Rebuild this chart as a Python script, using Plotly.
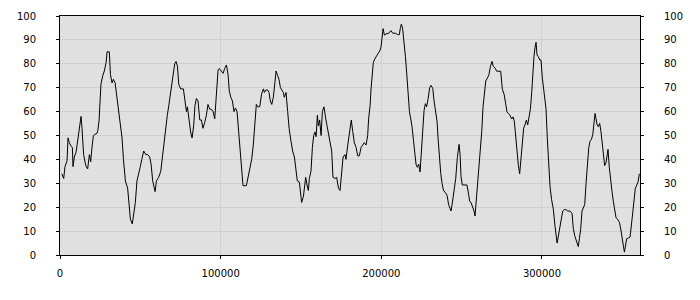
import plotly.graph_objects as go

# x positions (in thousands) and values
x_thousands = [
    1.1, 2.3, 3.1, 4.4, 5.0, 5.8, 6.9, 7.7, 8.1, 8.9, 10.0, 11.0, 12.1, 13.1, 13.7, 14.7,
    16.0, 17.2, 18.3, 19.1, 19.9, 20.8, 21.8, 23.1, 23.5, 24.3, 24.9, 25.5, 26.6, 27.6,
    28.7, 29.3, 30.7, 31.4, 32.4, 33.2, 34.3, 35.3, 36.3, 37.6, 38.6, 39.5, 40.7, 42.1,
    43.0, 43.8, 45.0, 45.9, 46.9, 47.9, 49.0, 50.0, 50.9, 52.1, 53.4, 54.6, 55.8, 56.7,
    57.7, 59.2, 60.0, 61.4, 62.7, 63.5, 64.3, 65.6, 66.8, 67.7, 68.5, 69.3, 70.4, 71.4,
    72.2, 73.1, 73.9, 75.1, 76.8, 77.6, 78.7, 79.3, 80.1, 81.3, 82.2, 83.2, 84.0, 84.9,
    85.9, 87.0, 88.0, 89.0, 90.1, 91.1, 92.1, 93.2, 94.2, 95.3, 96.3, 97.3, 98.4, 99.2,
    100.4, 101.5, 102.5, 103.6, 104.6, 105.4, 106.3, 107.3, 108.3, 109.2, 110.2, 111.2,
    112.1, 113.1, 113.9, 116.0, 117.0, 118.1, 119.3, 120.3, 121.4, 122.2, 123.1, 124.3,
    125.5, 126.6, 127.2, 128.0, 129.3, 130.1, 130.9, 131.8, 132.8, 133.8, 134.5, 135.5,
    136.3, 137.2, 138.0, 139.0, 139.6, 140.7, 141.7, 142.6, 143.8, 144.8, 145.9, 146.7,
    147.7, 149.0, 149.8, 150.4, 151.5, 152.1, 152.9, 154.0, 154.6, 155.2, 156.2, 157.1,
    157.9, 158.7, 159.4, 160.2, 160.8, 161.6, 162.5, 163.3, 164.3, 165.4, 166.2, 167.2,
    168.3, 169.1, 169.9, 171.2, 172.2, 173.3, 174.3, 175.3, 176.2, 177.4, 178.0, 179.1,
    179.9, 180.5, 181.3, 182.2, 183.2, 184.3, 185.3, 186.3, 187.4, 188.4, 189.4, 190.5,
    191.5, 192.1, 193.0, 193.6, 194.2, 195.0, 195.9, 196.9, 198.0, 199.0, 199.8, 200.4,
    201.1, 201.9, 202.9, 204.6, 206.0, 207.1, 208.7, 210.2, 211.2, 211.9, 212.5, 213.3,
    214.1, 215.0, 215.8, 216.6, 217.5, 218.3, 219.1, 220.0, 220.8, 221.6, 222.4, 223.3,
    224.1, 224.9, 225.8, 226.6, 227.4, 228.2, 229.1, 230.1, 230.9, 232.0, 232.8, 233.6,
    234.7, 235.3, 236.1, 237.0, 237.8, 238.6, 239.9, 240.9, 241.9, 243.4, 244.2, 245.2,
    246.3, 247.3, 248.4, 249.0, 249.6, 250.4, 252.1, 253.3, 254.2, 255.0, 255.8, 256.7,
    257.7, 258.3, 259.1, 260.0, 260.8, 261.6, 262.5, 263.3, 264.1, 265.0, 266.0, 267.0,
    267.9, 268.9, 269.7, 270.8, 271.8, 272.8, 274.3, 275.3, 276.4, 277.4, 278.2, 279.1,
    280.1, 281.1, 282.0, 282.8, 283.6, 284.5, 285.3, 286.1, 287.0, 287.8, 288.6, 289.4,
    290.3, 291.1, 291.9, 292.8, 293.6, 294.4, 295.0, 295.7, 296.3, 296.9, 297.7, 298.6,
    299.4, 300.2, 301.3, 302.5, 303.3, 304.2, 305.0, 306.0, 307.1, 308.1, 308.7, 309.4,
    310.2, 311.0, 311.8, 312.9, 313.9, 314.9, 316.0, 317.4, 318.7, 319.5, 320.4, 321.2,
    322.0, 322.6, 323.3, 324.1, 324.9, 325.7, 326.6, 327.4, 328.2, 329.1, 329.9, 330.7,
    331.6, 332.4, 333.0, 333.6, 334.3, 335.1, 335.9, 336.7, 337.6, 338.2, 339.0, 339.9,
    340.5, 341.1, 341.9, 342.8, 343.6, 344.4, 345.3, 346.1, 347.3, 348.2, 349.0, 349.8,
    350.6, 351.3, 351.9, 352.7, 353.8, 354.8, 355.6, 356.5, 357.3, 358.1, 359.0, 359.8,
    360.6,
]
values = [
    34, 32, 37, 39.5, 49, 47, 45.5, 45, 37, 41, 43, 48, 54, 58, 53, 42,
    37.5, 36, 42, 39, 45, 50, 50.5, 51, 52, 56, 64, 71.5, 75, 77,
    80.5, 85, 85, 75.5, 72, 73.5, 72, 67, 61, 56, 49, 40, 31, 28,
    19, 15, 13, 17.5, 22, 31, 35, 37, 40, 43.5, 42, 42, 41, 38,
    31, 26.5, 31, 32.5, 35, 39.5, 46, 54, 58.5, 62.5, 66.5, 71.5, 75.5, 80,
    81, 79, 71.5, 69.5, 69.5, 64.5, 60, 62, 57, 51.5, 49, 54, 62.5, 65.5,
    64.5, 56.5, 56.5, 53, 55.5, 58.5, 63, 61, 61, 60, 57, 68, 77.5, 78,
    77, 76, 78, 79.5, 75.5, 68.5, 66, 64.5, 60, 61.5, 60, 51.5,
    43.5, 39, 29, 29, 32.5, 35, 40, 46, 55, 63, 62, 62,
    67.5, 69.5, 68, 69, 69, 68, 64.5, 63, 66, 74, 77, 75,
    73.5, 70, 69, 68, 66, 68, 60, 53, 47.5, 43.5, 41, 37,
    31, 30.5, 26, 22, 24.5, 29, 32.5, 28.5, 27, 32, 35, 45,
    50, 51.5, 49.5, 58.5, 54, 56.5, 50, 60, 62, 57, 54, 50,
    47, 43.5, 32.5, 32, 32.5, 28, 27, 35, 41, 42, 40, 46,
    50, 53.7, 56.5, 51.7, 47, 45, 41.5, 41.5, 45, 46, 47, 46,
    50, 57, 62.5, 69.5, 75, 80.5, 82, 83, 84.6, 85.4, 87, 92,
    94.7, 92, 92.5, 92.8, 93.9, 92.8, 92.8, 92.2, 92.2, 95.2, 96.6, 94.5,
    89.8, 83, 76, 68, 60, 57, 53.7, 48, 43.5, 38, 36.7, 38,
    34.7, 43.5, 54.4, 60.5, 63.3, 62, 65.3, 70, 71, 69.7, 64.6, 60,
    55.8, 49, 40, 34, 30, 27.2, 26, 25, 21, 18.4, 21.8, 26.5,
    32, 40.8, 46.3, 42.2, 32.7, 29.3, 29.3, 29.3, 25.9, 22.4, 22, 20.4,
    18.4, 16.3, 22.4, 30.6, 36.7, 43.5, 51.7, 62, 68.7, 72.8, 74, 75.5,
    78.9, 81, 78.9, 78.2, 76.9, 76.9, 76.9, 69.4, 67.3, 63.3, 59.9, 59.2,
    58.5, 56.9, 57.8, 55.8, 49, 40.8, 37.4, 34, 40.8, 49, 53.1, 54.4,
    56.5, 54.4, 57.1, 61.2, 68, 77.6, 83, 87, 89, 83.7, 83, 81.6,
    81.6, 74.1, 66.7, 61.2, 49, 38, 28.6, 23.1, 19, 12, 7.5, 5,
    8, 11, 15, 18.4, 19, 19, 18.4, 18.4, 17.4, 11, 8, 6,
    4.5, 3.5, 7, 11, 18.4, 19.7, 21.1, 29.9, 39.5, 44.9, 47.6, 48.3,
    50.3, 57.1, 59.2, 57.1, 54.4, 53.7, 55.1, 51.7, 46.3, 40.8, 37.4, 38.8,
    40.8, 44.2, 36.7, 29.9, 26.5, 22.4, 18.4, 15.6, 14.7, 13.6, 10.9, 8.2,
    4.1, 1.2, 4.8, 6.8, 7.1, 7.5, 12.2, 19, 24.5, 27.9, 29.3, 30.6,
    34,
]
x_vals = [v * 1000 for v in x_thousands]

x_ticks = [0, 100000, 200000, 300000]
y_ticks = [0, 10, 20, 30, 40, 50, 60, 70, 80, 90, 100]

font = dict(family="DejaVu Sans", size=10, color="#000000")
grid = "#d0d0d0"

fig = go.Figure()
fig.add_trace(go.Scatter(x=x_vals, y=values, mode="lines",
                         line=dict(color="#000000", width=1),
                         hoverinfo="skip", showlegend=False))
fig.add_trace(go.Scatter(x=x_vals, y=values, mode="lines", yaxis="y2",
                         line=dict(color="rgba(0,0,0,0)", width=0),
                         hoverinfo="skip", showlegend=False))

fig.update_layout(
    width=700, height=300,
    margin=dict(l=60, r=60, t=10, b=45),
    paper_bgcolor="#ffffff",
    plot_bgcolor="#e0e0e0",
    font=font,
    showlegend=False,
    xaxis=dict(range=[0, 361000], tickvals=x_ticks, ticktext=[str(v) for v in x_ticks],
               showgrid=True, gridcolor=grid, gridwidth=1, zeroline=False,
               showline=True, linecolor="#000000", linewidth=1, mirror=True,
               ticks="outside", ticklen=3, tickcolor="#000000",
               ticklabelstandoff=6, tickfont=font),
    yaxis=dict(range=[0, 100], tickvals=y_ticks,
               showgrid=True, gridcolor=grid, gridwidth=1, zeroline=False,
               showline=True, linecolor="#000000", linewidth=1, mirror=True,
               ticks="outside", ticklen=3, tickcolor="#000000",
               ticklabelstandoff=18, tickfont=font),
    yaxis2=dict(range=[0, 100], tickvals=y_ticks, overlaying="y", side="right",
                showgrid=False, zeroline=False,
                showline=True, linecolor="#000000", linewidth=1,
                ticks="outside", ticklen=3, tickcolor="#000000",
                ticklabelstandoff=18, tickfont=font),
)

fig.write_html("out.html")
